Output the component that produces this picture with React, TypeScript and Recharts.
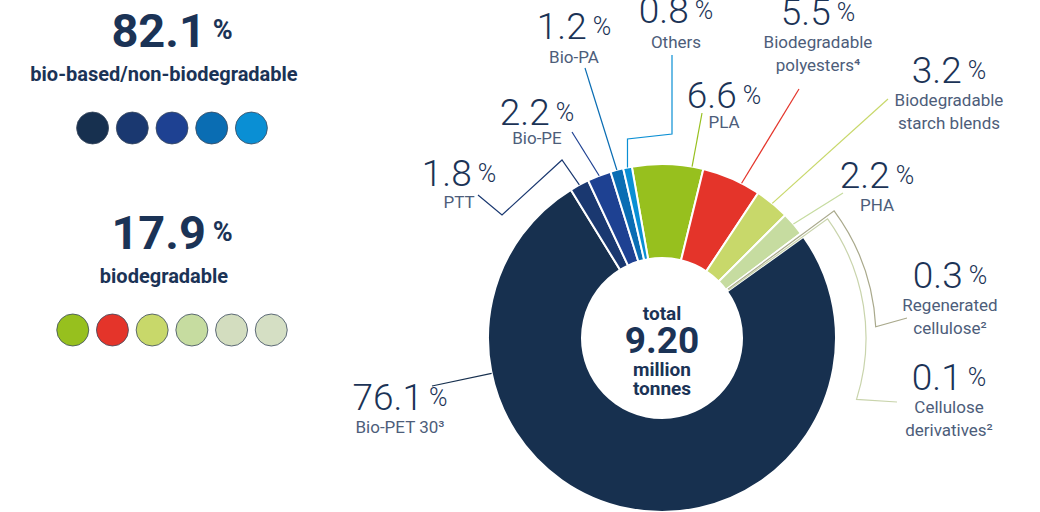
import { PieChart, Pie, Cell } from "recharts";

// market share by material, clockwise from the top
const materials = [
  "PLA",
  "Biodegradable polyesters",
  "Biodegradable starch blends",
  "PHA",
  "Regenerated cellulose",
  "Cellulose derivatives",
  "Bio-PET 30",
  "PTT",
  "Bio-PE",
  "Bio-PA",
  "Others",
];
const shares = [6.6, 5.5, 3.2, 2.2, 0.3, 0.1, 76.1, 1.8, 2.2, 1.2, 0.8];
const isBiodegradable = [true, true, true, true, true, true, false, false, false, false, false];
const labelText = [
  ["PLA"],
  ["Biodegradable", "polyesters⁴"],
  ["Biodegradable", "starch blends"],
  ["PHA"],
  ["Regenerated", "cellulose²"],
  ["Cellulose", "derivatives²"],
  ["Bio-PET 30³"],
  ["PTT"],
  ["Bio-PE"],
  ["Bio-PA"],
  ["Others"],
];
const totalMillionTonnes = 9.2;

const SLICE_COLORS = [
  "#97c01e", "#e4342a", "#c8d86a", "#c6dca0", "#d3ddbf", "#d5dfc4",
  "#17304f", "#1a3870", "#1e4192", "#0a6db3", "#0a8fd4",
];
const LINE_COLORS = [
  "#97c01e", "#e4342a", "#c8d86a", "#c6dca0", "#a9a98c", "#c9d4ac",
  "#17304f", "#1a3870", "#1e4192", "#0a6db3", "#0a8fd4",
];

const CX = 662;
const CY = 338;
const INNER = 80;
const OUTER = 174;
const NAVY = "#1b3356";
const GREY = "#4d5d7a";
const RAD = Math.PI / 180;

type Lay = {
  num: [number, number];
  name: number;
  lead?: [number, number][];
  elbowY?: number;
  at?: number;
  arc?: { r: number; to: number; end: [number, number] };
};

// label placement (annotation layout only)
const LAYOUT: Lay[] = [
  { num: [724, 95], name: 122, lead: [[702, 113]], at: 0.84 },
  { num: [818, 12], name: 42, lead: [[799, 89]], at: 0.68 },
  { num: [949, 70], name: 100, lead: [[888, 99]] },
  { num: [877, 175], name: 205, lead: [[843, 193]] },
  { num: [950, 275], name: 305, arc: { r: 214, to: 3, end: [907, 318] } },
  { num: [949, 377], name: 407, arc: { r: 204, to: -17.5, end: [897, 402] } },
  { num: [400, 397], name: 427, lead: [[432, 386]], at: 0.744 },
  { num: [459, 173], name: 202, lead: [[478, 195], [502, 215], [562, 160]] },
  { num: [537, 112], name: 138, lead: [[572, 132]] },
  { num: [574, 26], name: 57, lead: [[585, 68]] },
  { num: [676, 10], name: 42, lead: [[672, 55], [672, 134]], elbowY: 139 },
];

const data = materials.map((m, i) => ({ name: m, value: shares[i] }));

const polar = (cx: number, cy: number, r: number, a: number) => [
  cx + r * Math.cos(-a * RAD),
  cy + r * Math.sin(-a * RAD),
];

function SliceLabel(props: any) {
  const { cx, cy, innerRadius, outerRadius, startAngle, endAngle, midAngle, index } = props;
  const lay = LAYOUT[index];
  const color = LINE_COLORS[index];
  let d = "";
  if (lay.arc) {
    const [x0, y0] = polar(cx, cy, innerRadius + 2, midAngle);
    const [x1, y1] = polar(cx, cy, lay.arc.r, midAngle);
    const [x2, y2] = polar(cx, cy, lay.arc.r, lay.arc.to);
    d = `M${x0},${y0}L${x1},${y1}A${lay.arc.r},${lay.arc.r} 0 0 1 ${x2},${y2}L${lay.arc.end[0]},${lay.arc.end[1]}`;
  } else if (lay.lead) {
    const f = lay.at ?? 0.5;
    const a = startAngle + (endAngle - startAngle) * f;
    const [ax, ay] = polar(cx, cy, outerRadius, a);
    const pts = [...lay.lead];
    if (lay.elbowY !== undefined) pts.push([ax, lay.elbowY]);
    pts.push([ax, ay]);
    d = "M" + pts.map((p) => `${p[0]},${p[1]}`).join("L");
  }
  return (
    <g>
      <path d={d} fill="none" stroke={color} strokeWidth={1.2} />
      <text
        x={lay.num[0]}
        y={lay.num[1]}
        textAnchor="middle"
        dominantBaseline="central"
        fill={NAVY}
        fontFamily="Roboto, sans-serif"
        fontWeight={300}
        fontSize={37}
      >
        {shares[index].toFixed(1)}
        <tspan fontSize={25}> %</tspan>
      </text>
      {labelText[index].map((t, j) => (
        <text
          key={j}
          x={lay.num[0]}
          y={lay.name + j * 23}
          textAnchor="middle"
          dominantBaseline="central"
          fill={GREY}
          fontFamily="Roboto, sans-serif"
          fontWeight={400}
          fontSize={17}
        >
          {t}
        </text>
      ))}
    </g>
  );
}

function Summary({ y, label, group }: { y: number; label: string; group: boolean }) {
  const idx = materials.map((_, i) => i).filter((i) => isBiodegradable[i] === group);
  const sum = idx.reduce((s, i) => s + shares[i], 0);
  const PX = 172;
  const startX = PX - ((idx.length - 1) * 39.7) / 2;
  return (
    <g fontFamily="Roboto, sans-serif" fontWeight={700} fill={NAVY}>
      <text x={PX} y={y} textAnchor="middle" dominantBaseline="central" fontSize={47}>
        {sum.toFixed(1)}
        <tspan fontSize={27}> %</tspan>
      </text>
      <text x={PX - 8} y={y + 44} textAnchor="middle" dominantBaseline="central" fontSize={20}>
        {label}
      </text>
      {idx.map((i, k) => (
        <circle
          key={i}
          cx={startX + k * 39.7}
          cy={y + 98}
          r={16}
          fill={SLICE_COLORS[i]}
          stroke="#3b4a5e"
          strokeWidth={0.8}
        />
      ))}
    </g>
  );
}

export default function App() {
  return (
    <div style={{ position: "absolute", left: 0, top: 0, width: 1040, height: 512, overflow: "hidden", background: "#fff" }}>
      <PieChart width={1040} height={512} margin={{ top: 0, right: 0, bottom: 0, left: 0 }}>
        <Pie
          data={data}
          dataKey="value"
          nameKey="name"
          cx={CX}
          cy={CY}
          innerRadius={INNER}
          outerRadius={OUTER}
          startAngle={100}
          endAngle={-260}
          stroke="#ffffff"
          strokeWidth={2}
          label={SliceLabel}
          labelLine={false}
          isAnimationActive={false}
        >
          {data.map((d, i) => (
            <Cell key={d.name} fill={SLICE_COLORS[i]} />
          ))}
        </Pie>
      </PieChart>
      <svg width={1040} height={512} style={{ position: "absolute", left: 0, top: 0, pointerEvents: "none" }}>
        <Summary y={30} label="bio-based/non-biodegradable" group={false} />
        <Summary y={232} label="biodegradable" group={true} />
        <g fontFamily="Roboto, sans-serif" fontWeight={700} fill={NAVY} textAnchor="middle">
          <text x={CX} y={313} dominantBaseline="central" fontSize={19}>total</text>
          <text x={CX} y={340} dominantBaseline="central" fontSize={37}>
            {totalMillionTonnes.toFixed(2)}
          </text>
          <text x={CX} y={369} dominantBaseline="central" fontSize={19}>million</text>
          <text x={CX} y={388} dominantBaseline="central" fontSize={19}>tonnes</text>
        </g>
      </svg>
    </div>
  );
}
